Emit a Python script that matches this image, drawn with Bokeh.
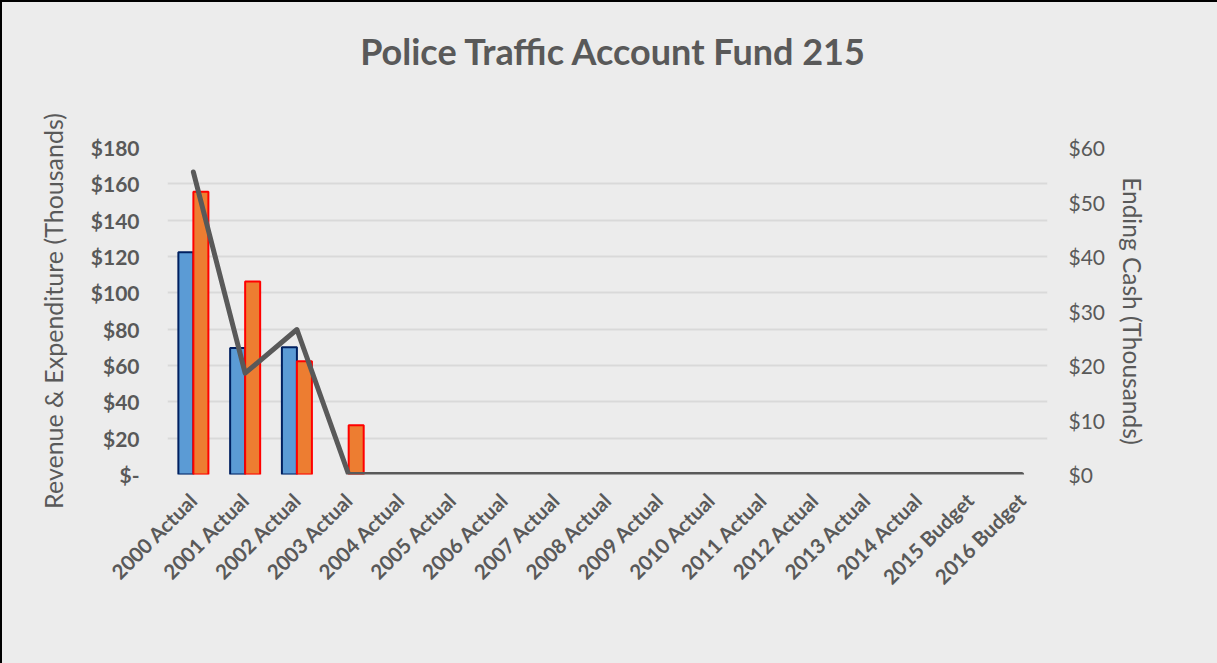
import math
from bokeh.plotting import figure
from bokeh.layouts import column
from bokeh.models import (ColumnDataSource, FactorRange, Range1d, LinearAxis,
                          FixedTicker, Legend, LegendItem, Div)
from bokeh.transform import dodge
from bokeh.embed import file_html
from bokeh.resources import INLINE

categories = ["2000 Actual", "2001 Actual", "2002 Actual", "2003 Actual", "2004 Actual",
              "2005 Actual", "2006 Actual", "2007 Actual", "2008 Actual", "2009 Actual",
              "2010 Actual", "2011 Actual", "2012 Actual", "2013 Actual", "2014 Actual",
              "2015 Budget", "2016 Budget"]
revenue = [122.3, 69.7, 70.1, 0, 0, 0, 0, 0, 0, 0, 0, 0, 0, 0, 0, 0, 0]
expenditures = [155.7, 106.2, 62.4, 27.1, 0, 0, 0, 0, 0, 0, 0, 0, 0, 0, 0, 0, 0]
ending_cash = [55.5, 18.6, 26.6, 0, 0, 0, 0, 0, 0, 0, 0, 0, 0, 0, 0, 0, 0]
left_ticks = [0, 20, 40, 60, 80, 100, 120, 140, 160, 180]
left_tick_labels = ["$-", "$20", "$40", "$60", "$80", "$100", "$120", "$140", "$160", "$180"]
right_ticks = [0, 10, 20, 30, 40, 50, 60]
right_tick_labels = ["$0", "$10", "$20", "$30", "$40", "$50", "$60"]

FONT = "Lato"
GREY = "#595959"
BG = "#ECECEC"

source = ColumnDataSource(dict(
    cat=categories,
    rev=[v if v else float("nan") for v in revenue],
    exp=[v if v else float("nan") for v in expenditures],
    cash=ending_cash,
))

title_div = Div(text="Police Traffic Account Fund 215", width=1211, height=100,
                styles={"background-color": BG, "color": GREY, "font-family": FONT,
                        "font-size": "36px", "font-weight": "bold",
                        "text-align": "center", "line-height": "88px"})

p = figure(frame_width=880, frame_height=327, x_range=FactorRange(*categories),
           y_range=Range1d(0, 180), output_backend="svg", toolbar_location=None,
           background_fill_color=BG, border_fill_color=BG,
           min_border_left=165, min_border_right=166, min_border_top=35,
           min_border_bottom=0)
p.outline_line_color = None
p.extra_y_ranges = {"cash": Range1d(0, 60)}

r_rev = p.vbar(x=dodge("cat", -0.145, range=p.x_range), top="rev", width=0.29,
               source=source, fill_color="#5B9BD5", line_color="#002060", line_width=2)
r_exp = p.vbar(x=dodge("cat", 0.145, range=p.x_range), top="exp", width=0.29,
               source=source, fill_color="#ED7D31", line_color="#FF0000", line_width=2)
r_cash = p.line(x="cat", y="cash", source=source, y_range_name="cash",
                line_color=GREY, line_width=5, line_join="round", line_cap="round")

# left axis
ax = p.yaxis[0]
ax.ticker = FixedTicker(ticks=left_ticks)
ax.major_label_overrides = {t: l for t, l in zip(left_ticks, left_tick_labels)}
ax.axis_line_color = None
ax.major_tick_line_color = None
ax.minor_tick_line_color = None
ax.major_label_text_font = FONT
ax.major_label_text_font_size = "21px"
ax.major_label_text_font_style = "bold"
ax.major_label_text_color = GREY
ax.major_label_standoff = 22
ax.axis_label = "Revenue & Expenditure (Thousands)"
ax.axis_label_text_font = FONT
ax.axis_label_text_font_size = "25px"
ax.axis_label_text_font_style = "normal"
ax.axis_label_text_color = GREY
ax.axis_label_standoff = 20

# right axis
rax = LinearAxis(y_range_name="cash", ticker=FixedTicker(ticks=right_ticks))
rax.major_label_overrides = {t: l for t, l in zip(right_ticks, right_tick_labels)}
rax.axis_line_color = None
rax.major_tick_line_color = None
rax.minor_tick_line_color = None
rax.major_label_text_font = FONT
rax.major_label_text_font_size = "21px"
rax.major_label_text_color = GREY
rax.major_label_standoff = 15
rax.axis_label = "Ending Cash (Thousands)"
rax.axis_label_text_font = FONT
rax.axis_label_text_font_size = "24.5px"
rax.axis_label_text_font_style = "normal"
rax.axis_label_text_color = GREY
rax.axis_label_standoff = 10
p.add_layout(rax, "right")

# x axis
xa = p.xaxis[0]
xa.major_label_orientation = math.pi / 4
xa.axis_line_color = None
xa.major_tick_line_color = None
xa.minor_tick_line_color = None
xa.major_label_text_font = FONT
xa.major_label_text_font_size = "20.5px"
xa.major_label_text_font_style = "bold"
xa.major_label_text_color = GREY
xa.major_label_standoff = 16

p.xgrid.grid_line_color = None
p.ygrid.grid_line_color = "#D9D9D9"
p.ygrid.grid_line_width = 2
p.ygrid.ticker = FixedTicker(ticks=left_ticks)

legend = Legend(items=[LegendItem(label="Revenue", renderers=[r_rev]),
                       LegendItem(label="Expenditures", renderers=[r_exp]),
                       LegendItem(label="Ending Cash", renderers=[r_cash])],
                orientation="horizontal", location=(163, 41),
                background_fill_alpha=0, border_line_color=None,
                label_text_font=FONT, label_text_font_size="19px",
                label_text_color=GREY, glyph_width=46, glyph_height=16,
                label_standoff=4, spacing=28, padding=0, margin=0)
p.add_layout(legend, "below")

layout = column(title_div, p, spacing=0,
                styles={"border": "2px solid #000000", "background-color": BG})

open("out.html", "w").write(file_html(layout, INLINE))
